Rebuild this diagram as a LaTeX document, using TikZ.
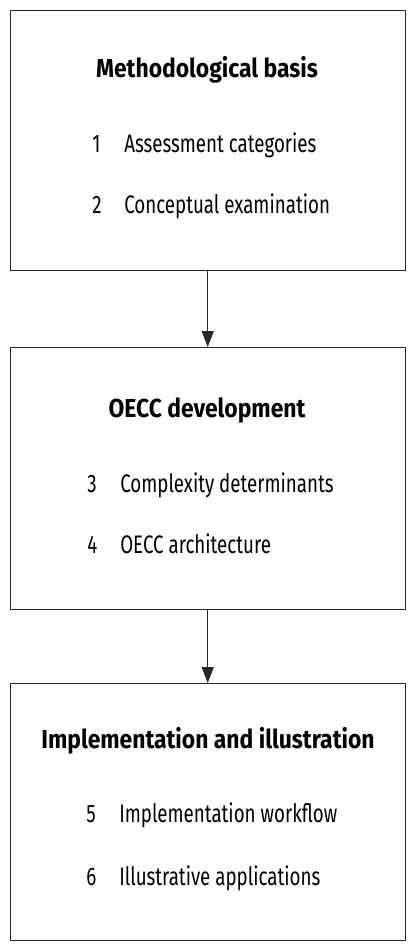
\documentclass[tikz,border=0pt]{standalone}
\usepackage{fontspec}
\setmainfont{Fira Sans}[FakeStretch=0.74, BoldFeatures={FakeStretch=0.88}]
\usetikzlibrary{arrows.meta}
\tikzset{
  stagebox/.style={draw=black!85, line width=1.1pt, fill=white},
  titletext/.style={anchor=base, inner sep=0pt, font=\fontsize{19.5}{22}\selectfont\bfseries},
  numtext/.style={anchor=base west, inner sep=0pt, font=\fontsize{19}{22}\selectfont},
  itemtext/.style={anchor=base west, inner sep=0pt, font=\fontsize{19}{22}\selectfont},
  flow/.style={draw=black!85, line width=1.1pt, -{Triangle[length=12pt,width=9pt]}}
}
\begin{document}
\begin{tikzpicture}[x=0.75pt,y=-0.75pt]
\useasboundingbox (0,0) rectangle (414,949);
% boxes
\node[stagebox, minimum width=395*0.75pt, minimum height=260*0.75pt, anchor=north west, inner sep=0pt] (b1) at (9.5,10) {};
\node[stagebox, minimum width=395*0.75pt, minimum height=262*0.75pt, anchor=north west, inner sep=0pt] (b2) at (9.5,347) {};
\node[stagebox, minimum width=395*0.75pt, minimum height=257*0.75pt, anchor=north west, inner sep=0pt] (b3) at (9.5,683) {};
% box 1
\node[titletext] (t1) at (207,78) {Methodological basis};
\node[numtext] (n1) at (92,152) {1};
\node[itemtext] (i1) at (124,152) {Assessment categories};
\node[numtext] (n2) at (92,213) {2};
\node[itemtext] (i2) at (124,213) {Conceptual examination};
% box 2
\node[titletext] (t2) at (207,417) {OECC development};
\node[numtext] (n3) at (87,492) {3};
\node[itemtext] (i3) at (120,492) {Complexity determinants};
\node[numtext] (n4) at (87,553) {4};
\node[itemtext] (i4) at (120,553) {OECC architecture};
% box 3
\node[titletext] (t3) at (208,748) {Implementation and illustration};
\node[numtext] (n5) at (86,822) {5};
\node[itemtext] (i5) at (119,822) {Implementation workflow};
\node[numtext] (n6) at (86,885) {6};
\node[itemtext] (i6) at (119,885) {Illustrative applications};
% connectors
\draw[flow] (b1.south) -- (b2.north);
\draw[flow] (b2.south) -- (b3.north);
\end{tikzpicture}
\end{document}
